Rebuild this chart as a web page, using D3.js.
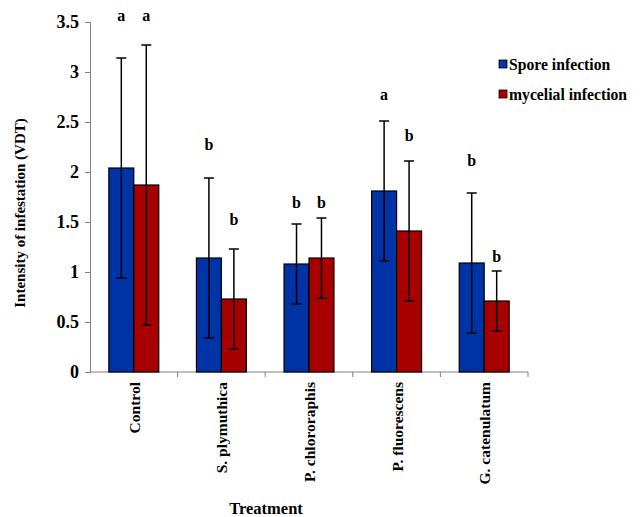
<!DOCTYPE html>
<html>
<head>
<meta charset="utf-8">
<script src="https://cdn.jsdelivr.net/npm/d3@7"></script>
<style>
  body { margin: 0; background: #fff; }
  text { font-family: "Liberation Serif", "Times New Roman", serif; font-weight: bold; fill: #000; }
</style>
</head>
<body>
<svg id="chart" width="640" height="517"></svg>
<script>
// treatments on the x axis
const treatments = ["Control", "S. plymuthica", "P. chlororaphis", "P. fluorescens", "G. catenulatum"];
const seriesNames = ["Spore infection", "mycelial infection"];
// means and error (+/-) per series
const spore = [2.04, 1.14, 1.08, 1.81, 1.09];
const sporeErr = [1.1, 0.8, 0.4, 0.7, 0.7];
const mycelial = [1.87, 0.73, 1.14, 1.41, 0.71];
const mycelialErr = [1.4, 0.5, 0.4, 0.7, 0.3];
// significance letters and the value level they sit at
const sporeLetters = ["a", "b", "b", "a", "b"];
const sporeLetterAt = [3.56, 2.27, 1.69, 2.77, 2.11];
const mycelialLetters = ["a", "b", "b", "b", "b"];
const mycelialLetterAt = [3.56, 1.52, 1.69, 2.36, 1.15];
const yTicks = [0, 0.5, 1, 1.5, 2, 2.5, 3, 3.5];

const colors = ["#0033a6", "#a80000"];
const svg = d3.select("#chart");
const m = { left: 90, right: 112, top: 22, bottom: 145 };
const W = 640 - m.left - m.right, H = 517 - m.top - m.bottom;
const g = svg.append("g").attr("transform", `translate(${m.left},${m.top})`);

const x = d3.scaleBand().domain(treatments).range([0, W]).paddingInner(0).paddingOuter(0);
const xSub = d3.scaleBand().domain([0, 1]).range([x.bandwidth() * 0.215, x.bandwidth() * 0.785]);
const y = d3.scaleLinear().domain([0, 3.5]).range([H, 0]);

// y axis
const yAxis = g.append("g").call(d3.axisLeft(y).tickValues(yTicks).tickSize(5).tickPadding(6).tickFormat(d3.format("")));
yAxis.select(".domain").attr("stroke", "#808080");
yAxis.selectAll(".tick line").attr("stroke", "#808080");
yAxis.selectAll(".tick text").style("font-size", "18px");

// x axis with ticks at category boundaries
const xAxis = g.append("g").attr("transform", `translate(0,${H})`);
xAxis.append("line").attr("x1", 0).attr("x2", W).attr("stroke", "#808080");
xAxis.selectAll(".bt").data(treatments).join("line")
  .attr("x1", d => x(d) + x.bandwidth()).attr("x2", d => x(d) + x.bandwidth())
  .attr("y1", 0).attr("y2", 5).attr("stroke", "#808080");
xAxis.selectAll(".lbl").data(treatments).join("text")
  .attr("transform", d => `translate(${x(d) + x.bandwidth() / 2 + 6},10) rotate(-90)`)
  .attr("text-anchor", "end")
  .style("font-size", "15.5px")
  .text(d => d);

const series = [
  { vals: spore, err: sporeErr, letters: sporeLetters, at: sporeLetterAt },
  { vals: mycelial, err: mycelialErr, letters: mycelialLetters, at: mycelialLetterAt }
];

series.forEach((s, k) => {
  const grp = g.append("g");
  const rows = treatments.map((t, i) => ({ t, v: s.vals[i], e: s.err[i], l: s.letters[i], a: s.at[i] }));
  grp.selectAll("rect").data(rows).join("rect")
    .attr("x", d => x(d.t) + xSub(k))
    .attr("width", xSub.bandwidth())
    .attr("y", d => y(d.v))
    .attr("height", d => H - y(d.v))
    .attr("fill", colors[k])
    .attr("stroke", "#000").attr("stroke-width", 1.2);
  const cx = d => x(d.t) + xSub(k) + xSub.bandwidth() / 2;
  grp.selectAll(".eb").data(rows).join("line")
    .attr("x1", cx).attr("x2", cx)
    .attr("y1", d => y(d.v + d.e)).attr("y2", d => y(d.v - d.e))
    .attr("stroke", "#000").attr("stroke-width", 1.5);
  ["top", "bot"].forEach(side => {
    grp.selectAll(".cap" + side).data(rows).join("line")
      .attr("x1", d => cx(d) - 5).attr("x2", d => cx(d) + 5)
      .attr("y1", d => y(side === "top" ? d.v + d.e : d.v - d.e))
      .attr("y2", d => y(side === "top" ? d.v + d.e : d.v - d.e))
      .attr("stroke", "#000").attr("stroke-width", 1.5);
  });
  grp.selectAll("text").data(rows).join("text")
    .attr("x", cx).attr("y", d => y(d.a) + 5)
    .attr("text-anchor", "middle")
    .style("font-size", "16px")
    .text(d => d.l);
});

// legend
const lg = svg.append("g").attr("transform", "translate(499,60)");
seriesNames.forEach((n, i) => {
  lg.append("rect").attr("x", 0).attr("y", i * 30).attr("width", 8).attr("height", 8)
    .attr("fill", colors[i]).attr("stroke", "#000").attr("stroke-width", 0.8);
  lg.append("text").attr("x", 10).attr("y", i * 30 + 10).style("font-size", "15.7px").text(n);
});

// axis titles
svg.append("text").attr("transform", "translate(25,213) rotate(-90)")
  .attr("text-anchor", "middle").style("font-size", "15px").text("Intensity of infestation (VDT)");
svg.append("text").attr("x", 266).attr("y", 514)
  .attr("text-anchor", "middle").style("font-size", "16.5px").text("Treatment");
</script>
</body>
</html>
